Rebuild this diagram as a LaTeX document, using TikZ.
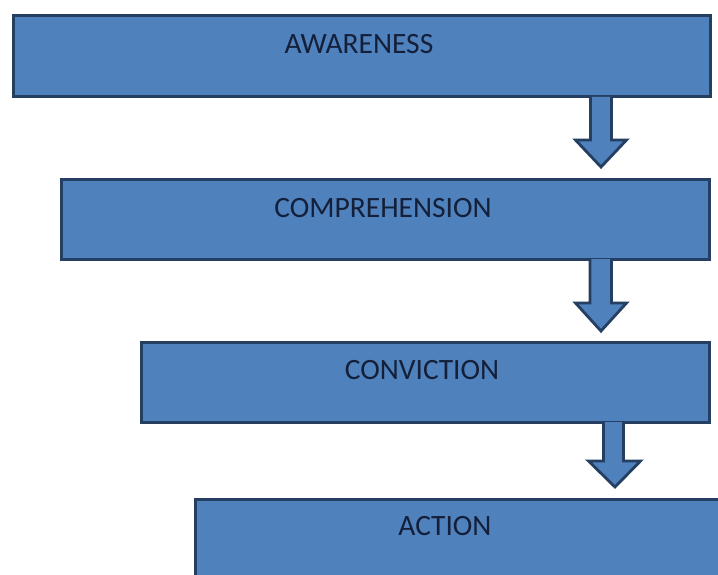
\documentclass[tikz,border=0pt]{standalone}
\usepackage{fontspec}
\setmainfont{Carlito}
\definecolor{boxfill}{HTML}{4F81BD}
\definecolor{boxline}{HTML}{243F62}
\definecolor{boxtext}{HTML}{14203A}
\begin{document}
\begin{tikzpicture}[x=1pt,y=-1pt,
  stagebox/.style={draw=boxline,fill=boxfill,line width=3pt,rectangle,anchor=north west,inner sep=0pt},
  stagetext/.style={text=boxtext,font=\fontsize{29.5}{33}\selectfont,inner sep=0pt,anchor=center},
  blockarrow/.style={draw=boxline,fill=boxfill,line width=2.8pt,line join=miter}]
\useasboundingbox (0,0) rectangle (718,575);
\clip (0,0) rectangle (718,575);
\fill[white] (0,0) rectangle (718,575);
% boxes
\node[stagebox,minimum width=697pt,minimum height=81pt] (aw) at (11.5,14.5) {};
\node[stagebox,minimum width=648pt,minimum height=79pt] (co) at (59.5,178.5) {};
\node[stagebox,minimum width=568pt,minimum height=80pt] (cv) at (139.5,340.5) {};
\node[stagebox,minimum width=560pt,minimum height=110pt] (ac) at (193.5,497.5) {};
% texts
\node[stagetext] (awt) at (359,44) {AWARENESS};
\node[stagetext] (cot) at (383,208) {COMPREHENSION};
\node[stagetext] (cvt) at (422,370) {CONVICTION};
\node[stagetext] (act) at (445,526) {ACTION};
% block arrows
\coordinate (t1) at (601,167);
\coordinate (t2) at (601,331);
\coordinate (t3) at (615,487);
\draw[blockarrow] (590.5,97) -- (590.5,140) -- (575.5,140) -- (t1) -- (626.5,140) -- (611.5,140) -- (611.5,97);
\draw[blockarrow] (590,259) -- (590,303) -- (575.5,303) -- (t2) -- (626.5,303) -- (611.5,303) -- (611.5,259);
\draw[blockarrow] (603.5,422) -- (603.5,461) -- (588.5,461) -- (t3) -- (640.5,461) -- (623.5,461) -- (623.5,422);
\end{tikzpicture}
\end{document}
